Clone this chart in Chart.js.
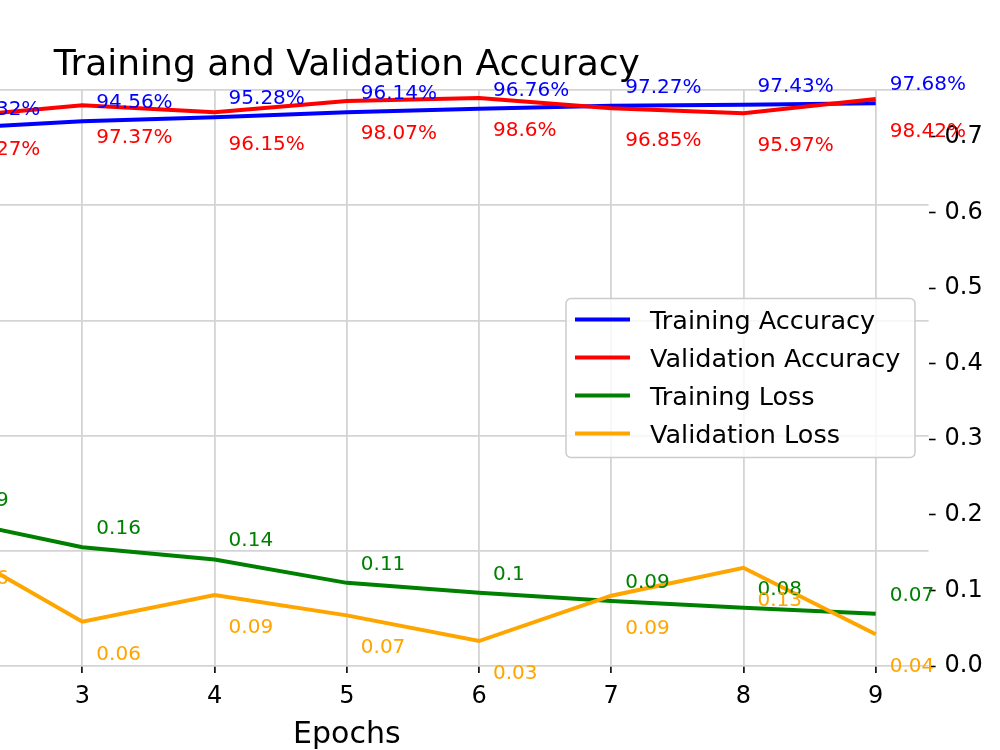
<!DOCTYPE html>
<html lang="en">
<head>
<meta charset="UTF-8">
<title>Training and Validation Accuracy</title>
<script src="https://cdn.jsdelivr.net/npm/chart.js"></script>
<style>
  html, body { margin: 0; padding: 0; background: #fff; overflow: hidden; }
  /* the figure is cropped on the left: the axes start off-screen */
  #wrap { position: absolute; left: -235px; top: 0; width: 1235px; height: 750px; }
</style>
</head>
<body>
<div id="wrap"><canvas id="chart" width="1235" height="750"></canvas></div>
<script>
const epochs = [2, 3, 4, 5, 6, 7, 8, 9];
const trainAcc = [0.9332, 0.9456, 0.9528, 0.9614, 0.9676, 0.9727, 0.9743, 0.9768];
const valAcc = [0.9527, 0.9737, 0.9615, 0.9807, 0.9860, 0.9685, 0.9597, 0.9842];
const trainLoss = [0.194, 0.157, 0.141, 0.110, 0.097, 0.086, 0.077, 0.069];
const valLoss = [0.159, 0.0586, 0.094, 0.067, 0.033, 0.093, 0.130, 0.042];
const lossTicks = [0, 0.1, 0.2, 0.3, 0.4, 0.5, 0.6, 0.7];

const FONT = '"DejaVu Sans", sans-serif';

const pts = arr => arr.map((v, i) => ({x: epochs[i], y: v}));
const pct = v => +(v * 100).toFixed(2) + '%';
const num = v => String(+v.toFixed(2));

// per dataset: label format and vertical offset of the text baseline
const annot = [
  {fmt: pct, dy: -13},
  {fmt: pct, dy: 38},
  {fmt: num, dy: -13},
  {fmt: num, dy: 38}
];

const overlay = {
  id: 'overlay',
  afterDatasetsDraw(chart) {
    const {ctx, scales} = chart;
    ctx.save();
    ctx.font = '20px ' + FONT;
    ctx.textAlign = 'left';
    ctx.textBaseline = 'alphabetic';
    chart.data.datasets.forEach((ds, k) => {
      const ys = scales[ds.yAxisID];
      ctx.fillStyle = ds.borderColor;
      ds.data.forEach(p => {
        const px = scales.x.getPixelForValue(p.x);
        const py = ys.getPixelForValue(p.y);
        ctx.fillText(annot[k].fmt(p.y), px + 14, py + annot[k].dy);
      });
    });
    ctx.restore();
  },
  afterDraw(chart) {
    const {ctx, chartArea: a} = chart;
    ctx.save();
    // title, centred on the axes
    ctx.fillStyle = '#000';
    ctx.font = '36px ' + FONT;
    ctx.textAlign = 'center';
    ctx.textBaseline = 'alphabetic';
    ctx.fillText('Training and Validation Accuracy', (a.left + a.right) / 2, a.top - 15);

    // legend, centre right
    const w = 349, h = 159;
    const x0 = a.right - 13.6 - w;
    const y0 = (a.top + a.bottom) / 2 - h / 2;
    ctx.beginPath();
    ctx.roundRect(x0, y0, w, h, 5);
    ctx.fillStyle = 'rgba(255,255,255,0.8)';
    ctx.fill();
    ctx.strokeStyle = '#cccccc';
    ctx.lineWidth = 1.5;
    ctx.stroke();
    ctx.font = '25.5px ' + FONT;
    ctx.textAlign = 'left';
    chart.data.datasets.forEach((ds, i) => {
      const y = y0 + 21 + i * 38;
      ctx.strokeStyle = ds.borderColor;
      ctx.lineWidth = 4;
      ctx.beginPath();
      ctx.moveTo(x0 + 9, y);
      ctx.lineTo(x0 + 64, y);
      ctx.stroke();
      ctx.fillStyle = '#000';
      ctx.fillText(ds.label, x0 + 84, y + 9.5);
    });
    ctx.restore();
  }
};

const line = (label, data, color, axis, order) => ({
  label, data: pts(data), borderColor: color, backgroundColor: color,
  borderWidth: 4, pointRadius: 0, tension: 0, fill: false,
  yAxisID: axis, order
});

new Chart(document.getElementById('chart').getContext('2d'), {
  type: 'line',
  data: {
    datasets: [
      line('Training Accuracy', trainAcc, '#0000ff', 'yAcc', 4),
      line('Validation Accuracy', valAcc, '#ff0000', 'yAcc', 3),
      line('Training Loss', trainLoss, '#008000', 'yLoss', 2),
      line('Validation Loss', valLoss, '#ffa500', 'yLoss', 1)
    ]
  },
  options: {
    responsive: false,
    animation: false,
    events: [],
    layout: { padding: { top: 90, left: 0, right: 0, bottom: 0 } },
    plugins: { legend: { display: false }, tooltip: { enabled: false }, title: { display: false } },
    scales: {
      x: {
        type: 'linear',
        min: 0.6, max: 9.4,
        afterFit: s => { s.height = 84; },
        border: { display: false },
        grid: { color: '#d4d4d4', lineWidth: 1.8, drawTicks: true, tickLength: 7, tickColor: '#000', tickWidth: 1.6 },
        ticks: { stepSize: 1, includeBounds: false, padding: 9, color: '#000', font: { family: FONT, size: 24 } },
        title: { display: true, text: 'Epochs', color: '#000', font: { family: FONT, size: 30, lineHeight: 1 }, padding: { top: 0, bottom: 0 } }
      },
      yAcc: {
        type: 'linear',
        position: 'left',
        min: 0, max: 1,
        afterFit: s => { s.width = 0; },
        border: { display: false },
        grid: { color: '#d4d4d4', lineWidth: 1.8, drawTicks: false },
        ticks: { display: false, stepSize: 0.2 }
      },
      yLoss: {
        type: 'linear',
        position: 'right',
        min: 0, max: 0.762,
        afterFit: s => { s.width = 71.4; },
        afterBuildTicks: s => { s.ticks = lossTicks.map(v => ({value: v})); },
        border: { display: false },
        grid: { drawOnChartArea: false, drawTicks: true, tickLength: 7, tickColor: '#000', tickWidth: 1.6 },
        ticks: { padding: 9, color: '#000', font: { family: FONT, size: 24 }, callback: v => v.toFixed(1) }
      }
    }
  },
  plugins: [overlay]
});
</script>
</body>
</html>
